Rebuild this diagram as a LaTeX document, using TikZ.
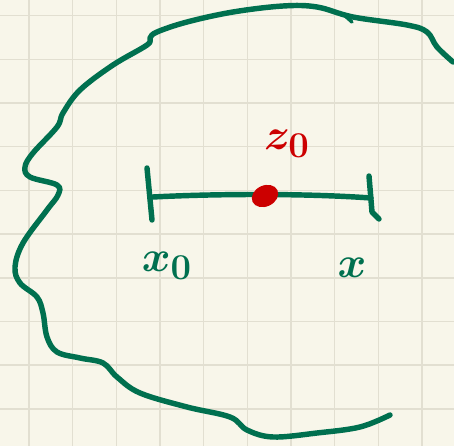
\documentclass[tikz,border=0pt]{standalone}
\usepackage{xcolor}
\usepackage{tikz}
\usetikzlibrary{positioning, shapes.geometric}
\definecolor{PaperCream}{HTML}{F8F6EA}
\definecolor{PaperGrid}{HTML}{E2DFD1}
\definecolor{InkGreen}{HTML}{00704F}
\definecolor{InkRed}{HTML}{CC0000}

\begin{document}
\begin{tikzpicture}[
  x=0.02cm, y=-0.02cm,
  font=\fontsize{32}{34}\selectfont\boldmath,
  ink/.style={draw=InkGreen, line width=3.1pt, line cap=round, line join=round},
  tickmark/.style={ink},
  lbl/.style={text=InkGreen, inner sep=0pt},
  redlbl/.style={text=InkRed, inner sep=0pt},
  dot/.style={ellipse, fill=InkRed, minimum width=0.55cm, minimum height=0.42cm,
              inner sep=0pt, rotate=25},
]
% paper
\fill[PaperCream] (0,0) rectangle (454,446);
\useasboundingbox (0,0) rectangle (454,446);
\foreach \k in {0,...,9} {
  \draw[PaperGrid, line width=0.9pt] ({29+43.67*\k},0) -- ({29+43.67*\k},446);
  \draw[PaperGrid, line width=0.9pt] (0,{15.7+43.67*\k}) -- (454,{15.7+43.67*\k});
}
% region boundary
\draw[ink] plot[smooth, tension=0.6] coordinates {
  (453,62) (437,47) (427,32) (407,25) (353,17) (317,7) (283,6) (233,12)
  (187,22) (157,32) (150,38) (147,45) (113,65) (80,90) (63,113) (57,127)
  (33,153) (25,167) (30,177) (57,185) (58,195) (47,210) (23,243) (15,267)
  (20,283) (37,297) (43,313) (47,337) (57,352) (80,358) (103,363) (117,377)
  (140,393) (187,407) (230,417) (247,430) (273,437) (317,433) (360,427) (390,415)};
\draw[ink, line width=2pt] (343,14) -- (352,22);
% segment
\coordinate (xzero) at (153,197);
\coordinate (xend) at (371,198);
\draw[ink] (xzero) .. controls (210,194) and (300,193) .. (xend);
\draw[tickmark] (147,168) -- (152,220);
\draw[tickmark] (369,176) -- (372,212) -- (379,219);
\node[dot] (zpt) at (265,196) {};
% labels
\node[lbl] (xzerolbl) at (167,266) {$x_0$};
\node[lbl, font=\fontsize{38}{40}\selectfont\boldmath] (xlbl) at (352,268) {$x$};
\node[redlbl] (zlbl) at (287,144) {$z_0$};
\end{tikzpicture}
\end{document}
